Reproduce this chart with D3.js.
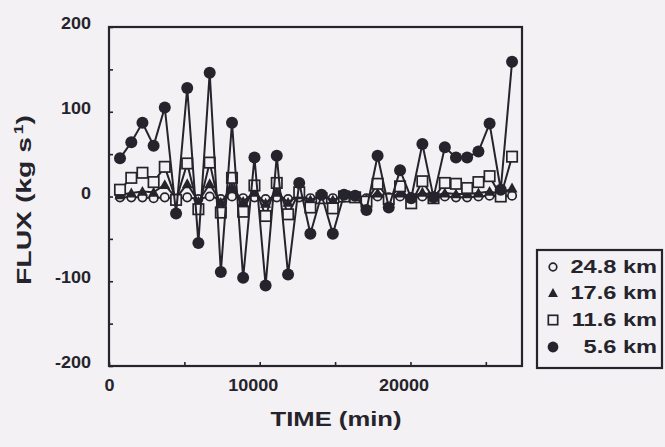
<!DOCTYPE html>
<html>
<head>
<meta charset="utf-8">
<script src="https://cdn.jsdelivr.net/npm/d3@7"></script>
<style>
  html, body { margin: 0; padding: 0; background: #f3f1f3; }
  svg { display: block; }
</style>
</head>
<body>
<svg id="chart" width="665" height="447"></svg>
<script>
// Sampling times (min)
const times = [730, 1480, 2220, 2960, 3700, 4450, 5190, 5930, 6680, 7420, 8160, 8900,
               9650, 10390, 11130, 11880, 12620, 13360, 14100, 14850, 15590, 16330, 17080, 17820,
               18560, 19310, 20050, 20790, 21530, 22280, 23020, 23760, 24510, 25250, 25990, 26740];

// Flux (kg s^-1) at each altitude
const flux248 = [-1, -1, -1, -2, -1, -3, -1, -3, 0, -3, 0, -2, -1, -3, -1, -3, -1, -2,
                 0, -2, -1, -1, -2, 0, -1, 0, -1, 0, -1, 0, -1, -1, 0, 1, 0, 1];
const flux176 = [2, 4, 6, 5, 14, -2, 15, -6, 15, -7, 10, -6, 5, -8, 5, -7, 2, -4,
                 0, -4, 0, 0, -3, 4, -2, 4, -1, 5, 0, 4, 3, 3, 4, 6, 3, 10];
const flux116 = [8, 22, 28, 17, 35, -4, 39, -15, 40, -19, 22, -18, 13, -23, 16, -21, 5, -13,
                 -2, -14, 0, -1, -6, 15, -3, 12, -8, 18, -2, 16, 15, 10, 17, 24, 0, 47];
const flux56  = [45, 64, 87, 60, 105, -20, 128, -55, 146, -89, 87, -96, 46, -105, 48, -92, 16, -44,
                 2, -44, 2, 1, -16, 48, -13, 31, -2, 62, -1, 58, 46, 46, 53, 86, 8, 159];

const seriesLabels = ["24.8 km", "17.6 km", "11.6 km", "5.6 km"];
const xTickValues = [0, 5000, 10000, 15000, 20000, 25000];
const xTickLabels = ["0", "", "10000", "", "20000", ""];
const yTickValues = [-200, -150, -100, -50, 0, 50, 100, 150, 200];
const yTickLabels = ["-200", "", "-100", "", "0", "", "100", "", "200"];

const ink = "#25232b";
const paper = "#f3f1f3";
const font = "'Liberation Sans', Arial, Helvetica, sans-serif";
const tickStretch = 1.06;   // slightly wide tick numerals
const titleStretch = 1.28;  // wide bold lettering for titles

const svg = d3.select("#chart");

const x = d3.scaleLinear().domain([0, 27400]).range([109, 522]);
const y = d3.scaleLinear().domain([-200, 200]).range([366, 27]);

// Axes with inward ticks
const xAxis = d3.axisBottom(x)
  .tickValues(xTickValues)
  .tickSize(-4)
  .tickPadding(0)
  .tickFormat((d, i) => xTickLabels[i]);
const yAxis = d3.axisLeft(y)
  .tickValues(yTickValues)
  .tickSize(-4)
  .tickPadding(0)
  .tickFormat((d, i) => yTickLabels[i]);

const gx = svg.append("g").attr("transform", `translate(0,${y(-200)})`).call(xAxis);
const gy = svg.append("g").attr("transform", `translate(${x(0)},0)`).call(yAxis);

[gx, gy].forEach(g => {
  g.select(".domain").remove();
  g.selectAll(".tick line").attr("stroke", ink).attr("stroke-width", 1.6);
  g.selectAll(".tick text")
    .attr("fill", ink)
    .style("font-family", font)
    .style("font-weight", "bold")
    .style("font-size", "17px");
});

gx.selectAll(".tick text")
  .attr("y", null).attr("dy", null)
  .attr("text-anchor", "middle")
  .attr("transform", d => `translate(${d === 0 ? 0 : -7},${25})scale(${tickStretch},1)`);

gy.selectAll(".tick text")
  .attr("x", null).attr("dy", null)
  .attr("text-anchor", "end")
  .attr("transform", `translate(-18,${1.5})scale(${tickStretch},1)`);

// Plot frame
svg.append("rect")
  .attr("x", x(0)).attr("y", y(200))
  .attr("width", x(27400) - x(0)).attr("height", y(-200) - y(200))
  .attr("fill", "none").attr("stroke", ink).attr("stroke-width", 2.2);

// Series drawing
const series = [
  { values: flux248, shape: "openCircle" },
  { values: flux176, shape: "triangle" },
  { values: flux116, shape: "square" },
  { values: flux56,  shape: "dot" }
];

const line = d3.line().x(d => x(d[0])).y(d => y(d[1]));

function drawMarker(g, shape, cx, cy, scale) {
  const s = scale || 1;
  if (shape === "openCircle") {
    g.append("circle").attr("cx", cx).attr("cy", cy).attr("r", 4.2 * s)
      .attr("fill", paper).attr("stroke", ink).attr("stroke-width", 1.7);
  } else if (shape === "dot") {
    g.append("circle").attr("cx", cx).attr("cy", cy).attr("r", 6 * s)
      .attr("fill", ink);
  } else if (shape === "square") {
    const h = 5.2 * s;
    g.append("rect").attr("x", cx - h).attr("y", cy - h).attr("width", 2 * h).attr("height", 2 * h)
      .attr("fill", paper).attr("stroke", ink).attr("stroke-width", 1.7);
  } else if (shape === "triangle") {
    const h = 5.5 * s;
    g.append("path")
      .attr("d", `M${cx},${cy - h}L${cx + h},${cy + h * 0.8}L${cx - h},${cy + h * 0.8}Z`)
      .attr("fill", ink);
  }
}

series.forEach(sr => {
  const pts = times.map((t, i) => [t, sr.values[i]]);
  const g = svg.append("g");
  g.append("path").datum(pts)
    .attr("d", line)
    .attr("fill", "none").attr("stroke", ink).attr("stroke-width", 2)
    .attr("stroke-linejoin", "miter");
  pts.forEach(p => drawMarker(g, sr.shape, x(p[0]), y(p[1])));
});

// Axis titles
svg.append("text")
  .attr("transform", `translate(336,426)scale(${titleStretch},1)`)
  .attr("text-anchor", "middle")
  .attr("fill", ink)
  .style("font-family", font).style("font-weight", "bold").style("font-size", "20px")
  .text("TIME (min)");

const yTitle = svg.append("text")
  .attr("transform", `translate(31,200)rotate(-90)scale(${titleStretch + 0.07},1)`)
  .attr("text-anchor", "middle")
  .attr("fill", ink)
  .style("font-family", font).style("font-weight", "bold").style("font-size", "21px");
yTitle.append("tspan").text("FLUX (kg s");
yTitle.append("tspan").attr("dx", 2).attr("dy", -8).style("font-size", "13px").text("1");
yTitle.append("tspan").attr("dy", 8).text(")");

// Legend
const legend = svg.append("g");
legend.append("rect")
  .attr("x", 537).attr("y", 250).attr("width", 125).attr("height", 118)
  .attr("fill", paper).attr("stroke", ink).attr("stroke-width", 2.2);

const legendRows = [267, 293, 320, 347];
series.forEach((sr, i) => {
  drawMarker(legend, sr.shape, 553, legendRows[i], 0.9);
  legend.append("text")
    .attr("transform", `translate(657,${legendRows[i] + 6.3})scale(${titleStretch + 0.07},1)`)
    .attr("text-anchor", "end")
    .attr("fill", ink)
    .style("font-family", font).style("font-weight", "bold").style("font-size", "17.5px")
    .text(seriesLabels[i]);
});
</script>
</body>
</html>
